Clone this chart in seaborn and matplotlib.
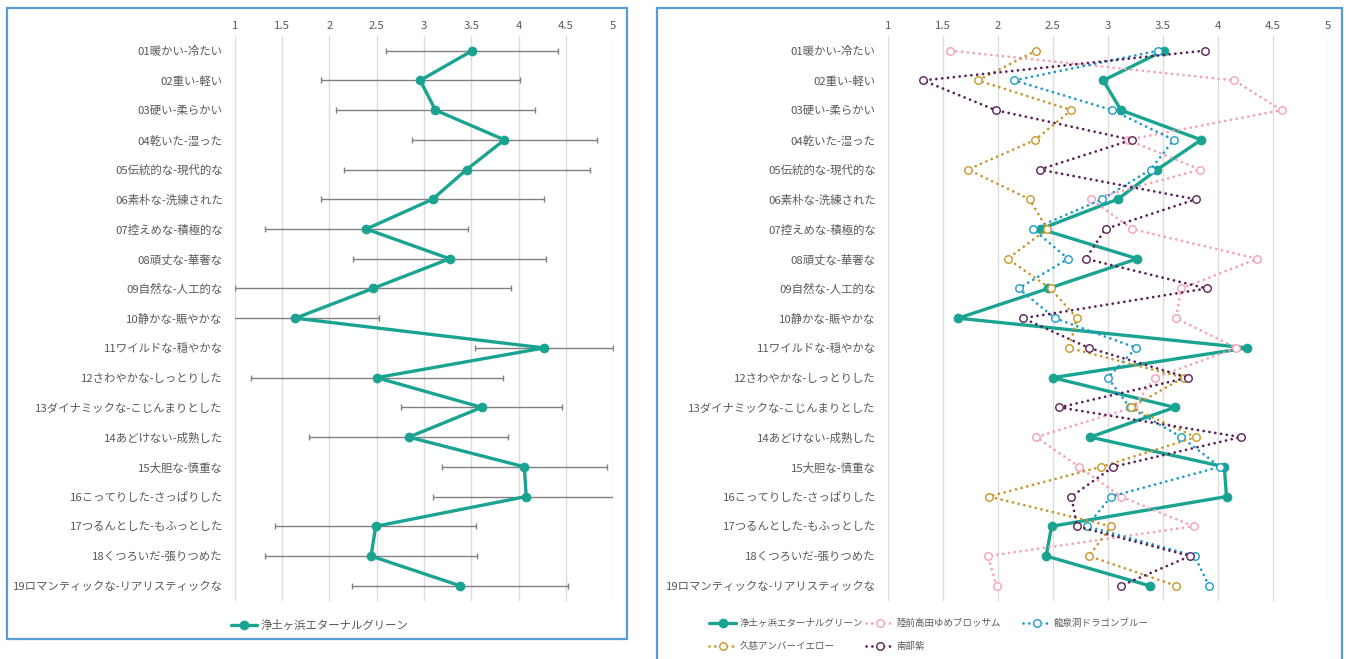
import numpy as np
import pandas as pd
import matplotlib
matplotlib.use("Agg")
import matplotlib.pyplot as plt
from matplotlib.lines import Line2D
from matplotlib.patches import Rectangle
import seaborn as sns

# Semantic-differential items (19 adjective pairs)
items = [
    "01暖かい-冷たい",
    "02重い-軽い",
    "03硬い-柔らかい",
    "04乾いた-湿った",
    "05伝統的な-現代的な",
    "06素朴な-洗練された",
    "07控えめな-積極的な",
    "08頑丈な-華奢な",
    "09自然な-人工的な",
    "10静かな-賑やかな",
    "11ワイルドな-穏やかな",
    "12さわやかな-しっとりした",
    "13ダイナミックな-こじんまりとした",
    "14あどけない-成熟した",
    "15大胆な-慎重な",
    "16こってりした-さっぱりした",
    "17つるんとした-もふっとした",
    "18くつろいだ-張りつめた",
    "19ロマンティックな-リアリスティックな",
]

series_names = [
    "浄土ヶ浜エターナルグリーン",
    "陸前高田ゆめブロッサム",
    "龍泉洞ドラゴンブルー",
    "久慈アンバーイエロー",
    "南部紫",
]

# Mean scores per item
green = [3.51, 2.96, 3.12, 3.85, 3.45, 3.09, 2.39, 3.27, 2.46, 1.64,
         4.27, 2.50, 3.61, 2.84, 4.06, 4.08, 2.49, 2.44, 3.38]
green_sd = [0.91, 1.05, 1.05, 0.98, 1.30, 1.18, 1.07, 1.02, 1.46, 0.88,
            0.73, 1.33, 0.85, 1.05, 0.87, 0.98, 1.06, 1.12, 1.14]
pink = [1.57, 4.15, 4.58, 3.18, 3.84, 2.85, 3.22, 4.36, 3.67, 3.62,
        4.17, 3.43, 3.23, 2.35, 2.74, 3.12, 3.78, 1.91, 1.99]
blue = [3.46, 2.15, 3.04, 3.60, 3.39, 2.95, 2.32, 2.64, 2.19, 2.52,
        3.26, 3.00, 3.20, 3.67, 4.02, 3.03, 2.81, 3.79, 3.92]
gold = [2.35, 1.82, 2.67, 2.34, 1.73, 2.29, 2.45, 2.09, 2.48, 2.72,
        2.65, 3.69, 3.21, 3.80, 2.94, 1.92, 3.03, 2.83, 3.62]
purple = [3.88, 1.32, 1.98, 3.22, 2.38, 3.80, 2.98, 2.80, 3.90, 2.23,
          2.83, 3.73, 2.56, 4.21, 3.05, 2.67, 2.72, 3.75, 3.12]

x_ticks = [1, 1.5, 2, 2.5, 3, 3.5, 4, 4.5, 5]

colors = ["#1aa391", "#f5a0b8", "#1b9bc9", "#c8962a", "#5b1f57"]
all_series = [green, pink, blue, gold, purple]

sns.set_theme(style="white")
plt.rcParams["font.family"] = ["Noto Sans CJK JP", "DejaVu Sans"]

W, H = 1349, 659
fig = plt.figure(figsize=(W / 100, H / 100), dpi=100)
fig.patch.set_facecolor("white")

def fx(px):
    return px / W

def fy(py):
    return 1 - py / H

ax_top, ax_bot = 35.8, 600.6
axL = fig.add_axes([fx(234.7), fy(ax_bot), fx(613.3 - 234.7), (ax_bot - ax_top) / H])
axR = fig.add_axes([fx(887.7), fy(ax_bot), fx(1327.7 - 887.7), (ax_bot - ax_top) / H])

TXT = "#595959"
FS = 8.2

def style_axis(ax):
    ax.set_xlim(1, 5)
    ax.set_ylim(len(items) - 0.5, -0.5)
    ax.set_xticks(x_ticks)
    ax.set_xticklabels([f"{t:g}" for t in x_ticks])
    ax.xaxis.tick_top()
    ax.set_yticks(range(len(items)))
    ax.set_yticklabels(items)
    ax.tick_params(axis="x", length=0, pad=3.5, labelsize=FS, labelcolor=TXT)
    ax.tick_params(axis="y", length=0, pad=8.6, labelsize=FS, labelcolor=TXT)
    ax.grid(axis="x", color="#dcdcdc", linewidth=1.0)
    ax.grid(axis="y", visible=False)
    for s in ax.spines.values():
        s.set_visible(False)
    ax.set_xlabel("")
    ax.set_ylabel("")
    ax.set_axisbelow(True)
    ax.set_facecolor("none")

pos = np.arange(len(items))

solid_kw = dict(linewidth=2.4, marker="o", markersize=6.2,
                markeredgewidth=0.8)
dot_kw = dict(linewidth=2.0, linestyle=(0, (0.01, 2.1)),
              dash_capstyle="round", marker="o", markersize=5.4,
              markerfacecolor="white", markeredgewidth=1.0)

# ---- left panel: mean with ±SD error bars ----
axL.errorbar(green, pos, xerr=green_sd, fmt="none", ecolor="#808080",
             elinewidth=1.0, capsize=2.3, capthick=1.0, zorder=2)
df_left = pd.DataFrame({"score": green, "pos": pos})
sns.lineplot(data=df_left, x="score", y="pos", orient="y", sort=False,
             errorbar=None, ax=axL, color=colors[0],
             markeredgecolor=colors[0], zorder=3, **solid_kw)
style_axis(axL)

# ---- right panel: five colours compared ----
for i, (vals, col) in enumerate(zip(all_series, colors)):
    d = pd.DataFrame({"score": vals, "pos": pos})
    kw = solid_kw if i == 0 else dot_kw
    sns.lineplot(data=d, x="score", y="pos", orient="y", sort=False,
                 errorbar=None, ax=axR, color=col, markeredgecolor=col,
                 zorder=3 + i, **kw)
style_axis(axR)

def handle(i):
    kw = solid_kw if i == 0 else dot_kw
    return Line2D([], [], color=colors[i], markeredgecolor=colors[i], **kw)

def leg_kw(fs, hl):
    return dict(frameon=False, borderpad=0, borderaxespad=0, handlelength=hl,
                handletextpad=0.3, fontsize=fs, labelcolor=TXT,
                bbox_transform=fig.transFigure, loc="center left")

axL.legend(handles=[handle(0)], labels=[series_names[0]],
           bbox_to_anchor=(fx(231), fy(625)), **leg_kw(FS, 2.3))

# right-panel legend: three columns, two rows
legend_slots = [(0, 709, 623.7), (1, 866, 623.7), (2, 1023, 623.7),
                (3, 709, 646.7), (4, 866, 646.7)]
for n, (i, px, py) in enumerate(legend_slots):
    lg = axR.legend(handles=[handle(i)], labels=[series_names[i]],
                    bbox_to_anchor=(fx(px), fy(py)), **leg_kw(6.8, 2.9))
    if n < len(legend_slots) - 1:
        axR.add_artist(lg)

# panel frames
border = "#5b9bd5"
fig.add_artist(Rectangle((fx(7), fy(639)), fx(627 - 7), (639 - 8) / H,
                         transform=fig.transFigure, fill=False,
                         edgecolor=border, linewidth=1.6))
fig.add_artist(Rectangle((fx(656.5), fy(670)), fx(1342 - 656.5), (670 - 8) / H,
                         transform=fig.transFigure, fill=False,
                         edgecolor=border, linewidth=1.6))

fig.savefig("out.png", dpi=100)
